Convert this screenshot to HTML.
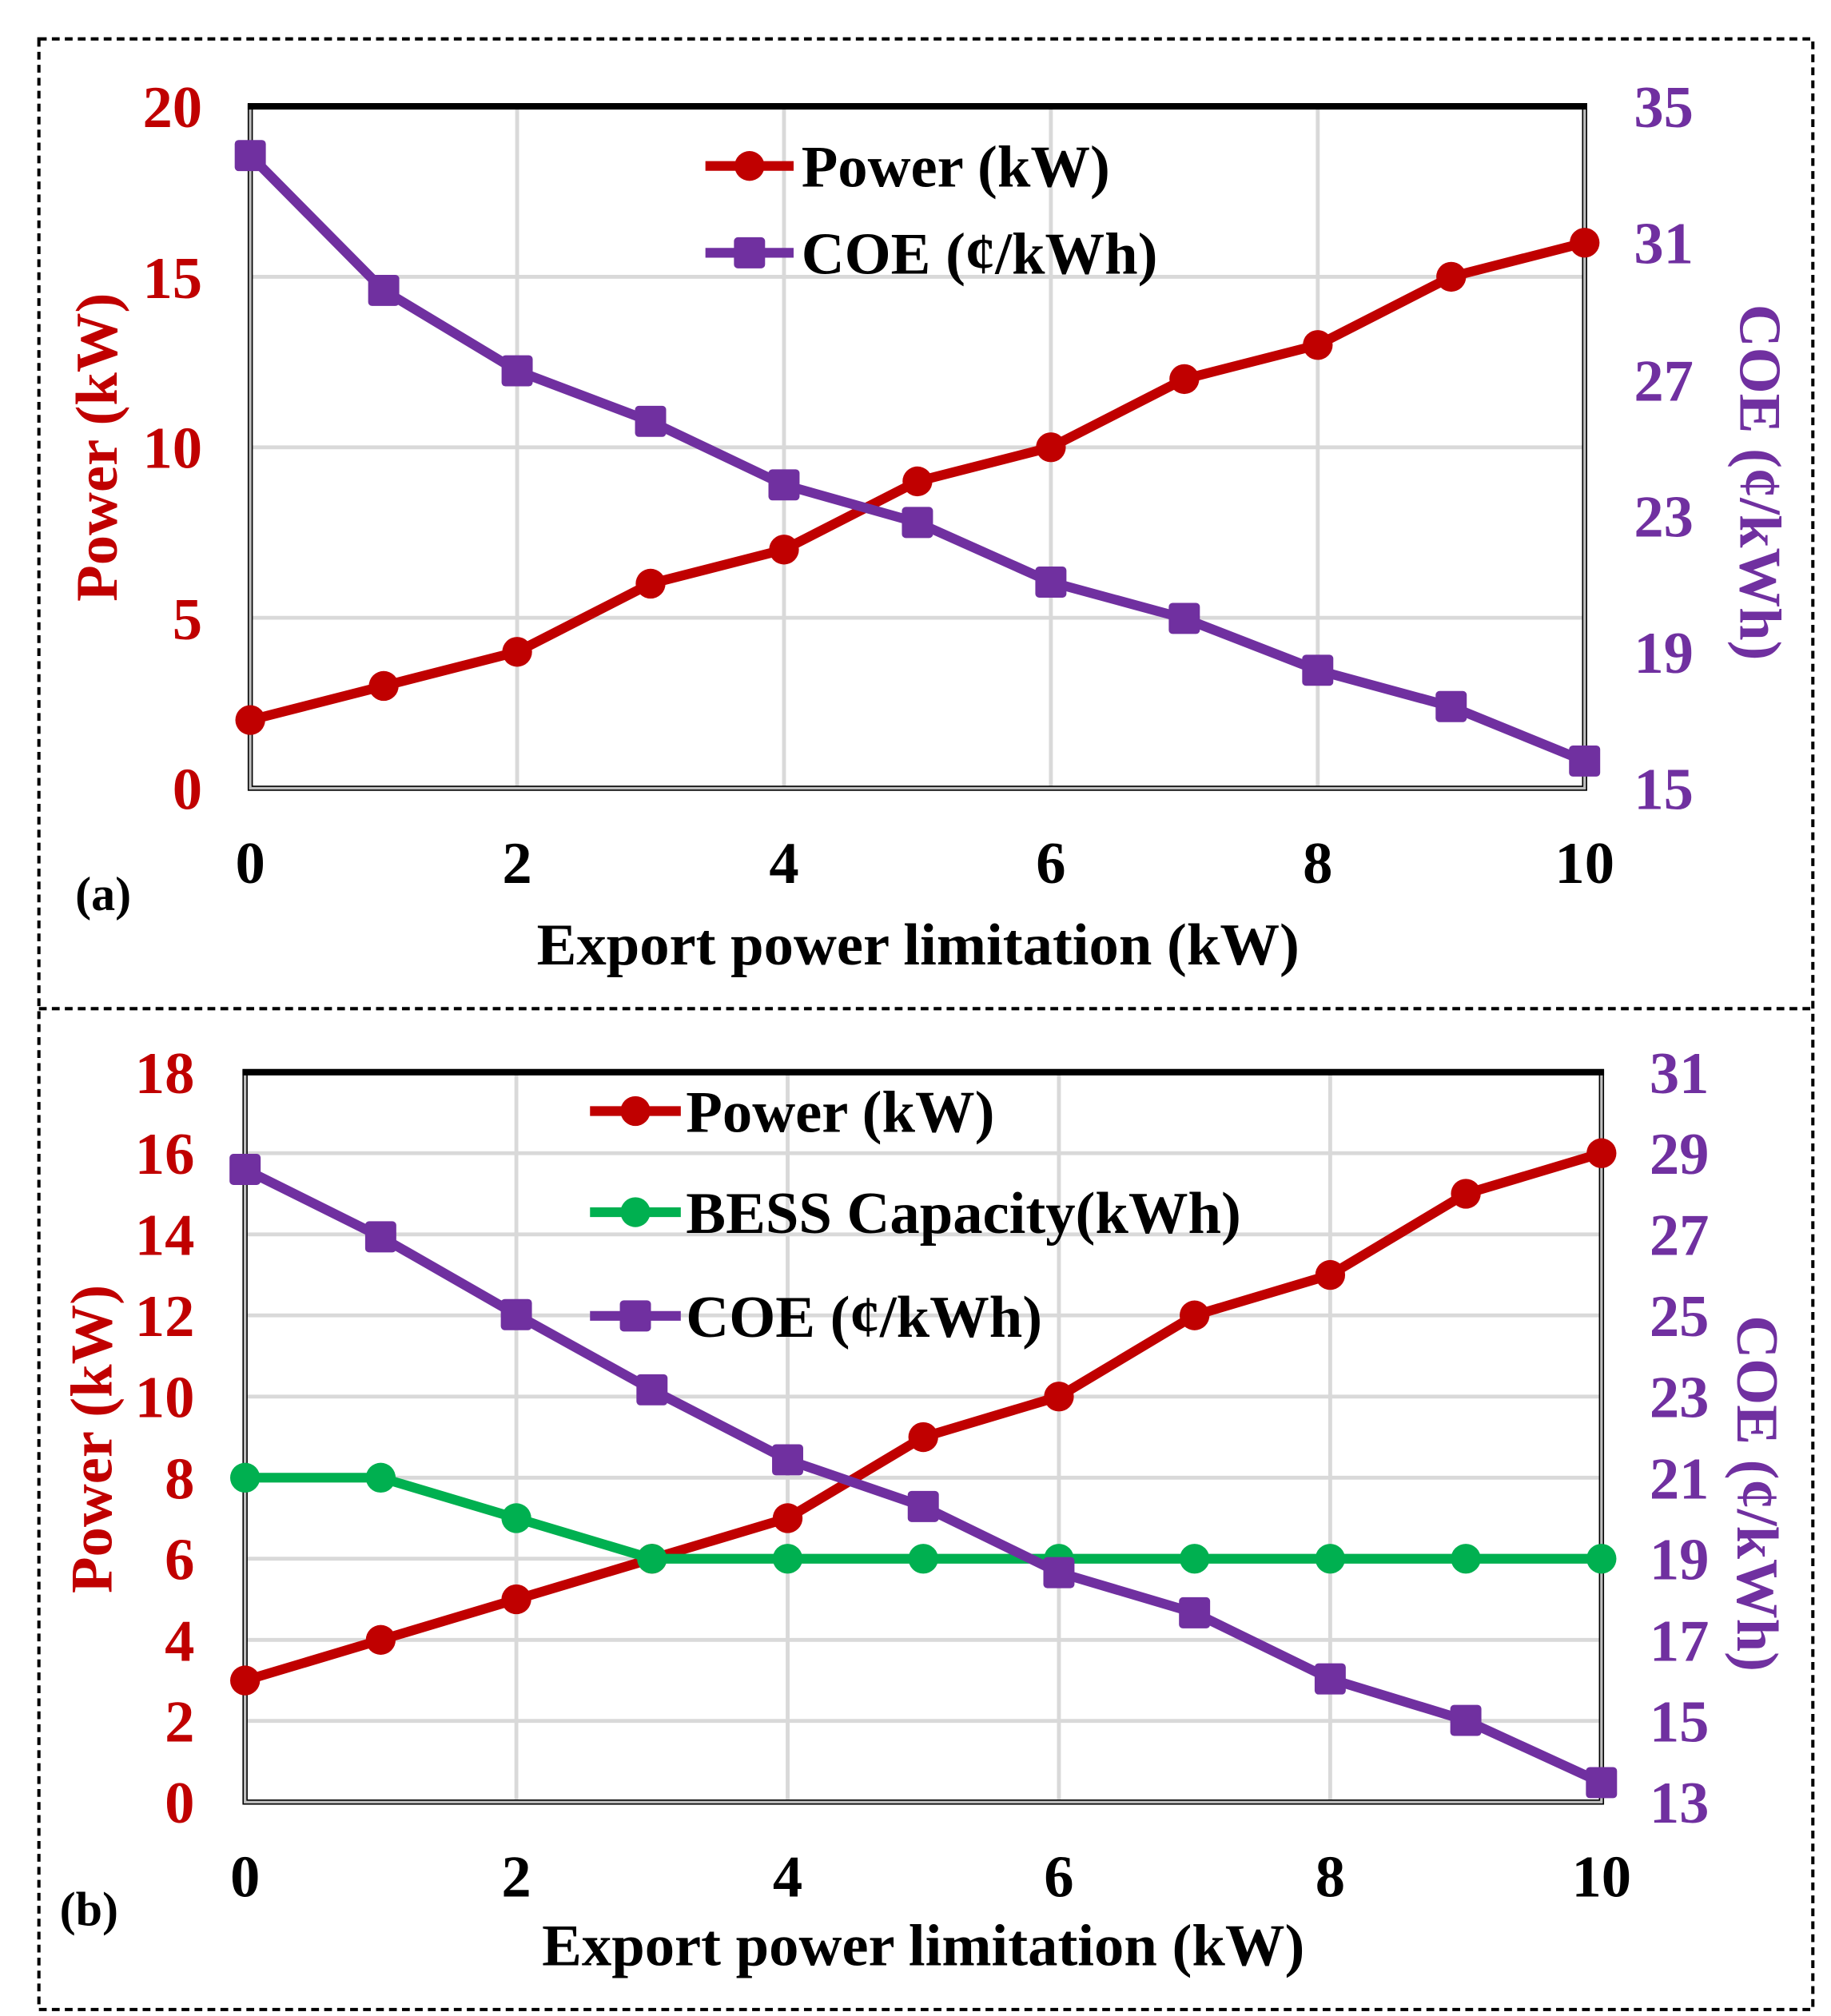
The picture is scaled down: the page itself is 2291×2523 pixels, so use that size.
<!DOCTYPE html>
<html><head><meta charset="utf-8"><style>
html,body{margin:0;padding:0;background:#fff;}
svg{display:block;}
text{font-family:"Liberation Serif",serif;font-weight:bold;}
</style></head><body>
<svg width="2291" height="2523" viewBox="0 0 1412 1555" preserveAspectRatio="none" xmlns="http://www.w3.org/2000/svg">
<rect x="0" y="0" width="1412" height="1555" fill="#fff"/>
<g fill="none" stroke="#000" stroke-width="2.5" stroke-dasharray="6,4">
<rect x="30" y="30" width="1368" height="1520"/>
<line x1="30" y1="778" x2="1398" y2="778"/>
</g>

<!-- ===== Chart A ===== -->
<g stroke="#D9D9D9" stroke-width="3">
<line x1="398.8" y1="82" x2="398.8" y2="608"/><line x1="604.6" y1="82" x2="604.6" y2="608"/>
<line x1="810.4" y1="82" x2="810.4" y2="608"/><line x1="1016.2" y1="82" x2="1016.2" y2="608"/>
<line x1="193" y1="476.5" x2="1222" y2="476.5"/><line x1="193" y1="345" x2="1222" y2="345"/><line x1="193" y1="213.5" x2="1222" y2="213.5"/>
</g>
<rect x="193" y="82" width="1029" height="526" fill="none" stroke="#000" stroke-width="4"/>
<rect x="193" y="82" width="1029" height="526" fill="none" stroke="#BFBFBF" stroke-width="2"/>
<line x1="191" y1="82" x2="1224" y2="82" stroke="#000" stroke-width="5"/>
<polyline fill="none" stroke="#C00000" stroke-width="7.5" stroke-linejoin="round" points="193,555.4 295.9,529.1 398.8,502.8 501.7,450.2 604.6,423.9 707.5,371.3 810.4,345 913.3,292.4 1016.2,266.1 1119.1,213.5 1222,187.2"/>
<g fill="#C00000"><circle cx="193" cy="555.4" r="11.5"/><circle cx="295.9" cy="529.1" r="11.5"/><circle cx="398.8" cy="502.8" r="11.5"/><circle cx="501.7" cy="450.2" r="11.5"/><circle cx="604.6" cy="423.9" r="11.5"/><circle cx="707.5" cy="371.3" r="11.5"/><circle cx="810.4" cy="345" r="11.5"/><circle cx="913.3" cy="292.4" r="11.5"/><circle cx="1016.2" cy="266.1" r="11.5"/><circle cx="1119.1" cy="213.5" r="11.5"/><circle cx="1222" cy="187.2" r="11.5"/></g>
<polyline fill="none" stroke="#7030A0" stroke-width="7.5" stroke-linejoin="round" points="193,120 295.9,224 398.8,286 501.7,325 604.6,374 707.5,403 810.4,449 913.3,477 1016.2,517 1119.1,545 1222,587"/>
<g fill="#7030A0">
<rect x="181" y="108" width="24" height="24" rx="3"/><rect x="283.9" y="212" width="24" height="24" rx="3"/><rect x="386.8" y="274" width="24" height="24" rx="3"/><rect x="489.7" y="313" width="24" height="24" rx="3"/><rect x="592.6" y="362" width="24" height="24" rx="3"/><rect x="695.5" y="391" width="24" height="24" rx="3"/><rect x="798.4" y="437" width="24" height="24" rx="3"/><rect x="901.3" y="465" width="24" height="24" rx="3"/><rect x="1004.2" y="505" width="24" height="24" rx="3"/><rect x="1107.1" y="533" width="24" height="24" rx="3"/><rect x="1210" y="575" width="24" height="24" rx="3"/>
</g>
<line x1="544" y1="128" x2="612" y2="128" stroke="#C00000" stroke-width="7.5"/><circle cx="578" cy="128" r="11.5" fill="#C00000"/>
<text x="618" y="144" font-size="46" fill="#000">Power (kW)</text>
<line x1="544" y1="195" x2="612" y2="195" stroke="#7030A0" stroke-width="7.5"/><rect x="566" y="183" width="24" height="24" rx="3" fill="#7030A0"/>
<text x="618" y="211" font-size="46" fill="#000">COE (¢/kWh)</text>
<g font-size="46" fill="#C00000" text-anchor="end">
<text x="156" y="98">20</text><text x="156" y="230">15</text><text x="156" y="361">10</text><text x="156" y="493">5</text><text x="156" y="624">0</text>
</g>
<g font-size="46" fill="#7030A0" text-anchor="start">
<text x="1260" y="98">35</text><text x="1260" y="203">31</text><text x="1260" y="309">27</text><text x="1260" y="414">23</text><text x="1260" y="519">19</text><text x="1260" y="624">15</text>
</g>
<g font-size="46" fill="#000" text-anchor="middle">
<text x="193" y="681">0</text><text x="398.8" y="681">2</text><text x="604.6" y="681">4</text><text x="810.4" y="681">6</text><text x="1016.2" y="681">8</text><text x="1222" y="681">10</text>
</g>
<text x="708" y="744" font-size="46" text-anchor="middle" fill="#000">Export power limitation (kW)</text>
<text x="58" y="702" font-size="37" fill="#000">(a)</text>
<text transform="translate(90,345) rotate(-90)" font-size="46" text-anchor="middle" fill="#C00000">Power (kW)</text>
<text transform="translate(1342,372) rotate(90)" font-size="46" text-anchor="middle" fill="#7030A0">COE (¢/kWh)</text>

<!-- ===== Chart B ===== -->
<g stroke="#D9D9D9" stroke-width="3">
<line x1="398.2" y1="827" x2="398.2" y2="1390"/><line x1="607.4" y1="827" x2="607.4" y2="1390"/>
<line x1="816.6" y1="827" x2="816.6" y2="1390"/><line x1="1025.8" y1="827" x2="1025.8" y2="1390"/>
<line x1="189" y1="1327.4" x2="1235" y2="1327.4"/><line x1="189" y1="1264.9" x2="1235" y2="1264.9"/><line x1="189" y1="1202.3" x2="1235" y2="1202.3"/><line x1="189" y1="1139.8" x2="1235" y2="1139.8"/><line x1="189" y1="1077.2" x2="1235" y2="1077.2"/><line x1="189" y1="1014.6" x2="1235" y2="1014.6"/><line x1="189" y1="952.1" x2="1235" y2="952.1"/><line x1="189" y1="889.5" x2="1235" y2="889.5"/>
</g>
<rect x="189" y="827" width="1046" height="563" fill="none" stroke="#000" stroke-width="4"/>
<rect x="189" y="827" width="1046" height="563" fill="none" stroke="#BFBFBF" stroke-width="2"/>
<line x1="187" y1="827" x2="1237" y2="827" stroke="#000" stroke-width="5"/>
<polyline fill="none" stroke="#C00000" stroke-width="7.5" stroke-linejoin="round" points="189,1296.2 293.6,1264.9 398.2,1233.6 502.8,1202.3 607.4,1171 712,1108.5 816.6,1077.2 921.2,1014.6 1025.8,983.4 1130.4,920.8 1235,889.5"/>
<g fill="#C00000"><circle cx="189" cy="1296.2" r="11.5"/><circle cx="293.6" cy="1264.9" r="11.5"/><circle cx="398.2" cy="1233.6" r="11.5"/><circle cx="502.8" cy="1202.3" r="11.5"/><circle cx="607.4" cy="1171" r="11.5"/><circle cx="712" cy="1108.5" r="11.5"/><circle cx="816.6" cy="1077.2" r="11.5"/><circle cx="921.2" cy="1014.6" r="11.5"/><circle cx="1025.8" cy="983.4" r="11.5"/><circle cx="1130.4" cy="920.8" r="11.5"/><circle cx="1235" cy="889.5" r="11.5"/></g>
<polyline fill="none" stroke="#00B050" stroke-width="7.5" stroke-linejoin="round" points="189,1139.8 293.6,1139.8 398.2,1171 502.8,1202.3 607.4,1202.3 712,1202.3 816.6,1202.3 921.2,1202.3 1025.8,1202.3 1130.4,1202.3 1235,1202.3"/>
<g fill="#00B050"><circle cx="189" cy="1139.8" r="11.5"/><circle cx="293.6" cy="1139.8" r="11.5"/><circle cx="398.2" cy="1171" r="11.5"/><circle cx="502.8" cy="1202.3" r="11.5"/><circle cx="607.4" cy="1202.3" r="11.5"/><circle cx="712" cy="1202.3" r="11.5"/><circle cx="816.6" cy="1202.3" r="11.5"/><circle cx="921.2" cy="1202.3" r="11.5"/><circle cx="1025.8" cy="1202.3" r="11.5"/><circle cx="1130.4" cy="1202.3" r="11.5"/><circle cx="1235" cy="1202.3" r="11.5"/></g>
<polyline fill="none" stroke="#7030A0" stroke-width="7.5" stroke-linejoin="round" points="189,902 293.6,954 398.2,1014 502.8,1072 607.4,1126 712,1162 816.6,1213 921.2,1244 1025.8,1295 1130.4,1327 1235,1375"/>
<g fill="#7030A0">
<rect x="177" y="890" width="24" height="24" rx="3"/><rect x="281.6" y="942" width="24" height="24" rx="3"/><rect x="386.2" y="1002" width="24" height="24" rx="3"/><rect x="490.8" y="1060" width="24" height="24" rx="3"/><rect x="595.4" y="1114" width="24" height="24" rx="3"/><rect x="700" y="1150" width="24" height="24" rx="3"/><rect x="804.6" y="1201" width="24" height="24" rx="3"/><rect x="909.2" y="1232" width="24" height="24" rx="3"/><rect x="1013.8" y="1283" width="24" height="24" rx="3"/><rect x="1118.4" y="1315" width="24" height="24" rx="3"/><rect x="1223" y="1363" width="24" height="24" rx="3"/>
</g>
<line x1="455" y1="857" x2="525" y2="857" stroke="#C00000" stroke-width="7.5"/><circle cx="490" cy="857" r="11.5" fill="#C00000"/>
<text x="529" y="873" font-size="46" fill="#000">Power (kW)</text>
<line x1="455" y1="935" x2="525" y2="935" stroke="#00B050" stroke-width="7.5"/><circle cx="490" cy="935" r="11.5" fill="#00B050"/>
<text x="529" y="951" font-size="46" fill="#000">BESS Capacity(kWh)</text>
<line x1="455" y1="1015" x2="525" y2="1015" stroke="#7030A0" stroke-width="7.5"/><rect x="478" y="1003" width="24" height="24" rx="3" fill="#7030A0"/>
<text x="529" y="1031" font-size="46" fill="#000">COE (¢/kWh)</text>
<g font-size="46" fill="#C00000" text-anchor="end">
<text x="150" y="843">18</text><text x="150" y="905.5">16</text><text x="150" y="968">14</text><text x="150" y="1030.6">12</text><text x="150" y="1093.2">10</text><text x="150" y="1155.8">8</text><text x="150" y="1218.3">6</text><text x="150" y="1280.9">4</text><text x="150" y="1343.4">2</text><text x="150" y="1406">0</text>
</g>
<g font-size="46" fill="#7030A0" text-anchor="start">
<text x="1272" y="843">31</text><text x="1272" y="905.5">29</text><text x="1272" y="968">27</text><text x="1272" y="1030.6">25</text><text x="1272" y="1093.2">23</text><text x="1272" y="1155.8">21</text><text x="1272" y="1218.3">19</text><text x="1272" y="1280.9">17</text><text x="1272" y="1343.4">15</text><text x="1272" y="1406">13</text>
</g>
<g font-size="46" fill="#000" text-anchor="middle">
<text x="189" y="1463">0</text><text x="398.2" y="1463">2</text><text x="607.4" y="1463">4</text><text x="816.6" y="1463">6</text><text x="1025.8" y="1463">8</text><text x="1235" y="1463">10</text>
</g>
<text x="712" y="1516" font-size="46" text-anchor="middle" fill="#000">Export power limitation (kW)</text>
<text x="46" y="1485" font-size="37" fill="#000">(b)</text>
<text transform="translate(86,1110) rotate(-90)" font-size="46" text-anchor="middle" fill="#C00000">Power (kW)</text>
<text transform="translate(1340,1152) rotate(90)" font-size="46" text-anchor="middle" fill="#7030A0">COE (¢/kWh)</text>
</svg>
</body></html>
